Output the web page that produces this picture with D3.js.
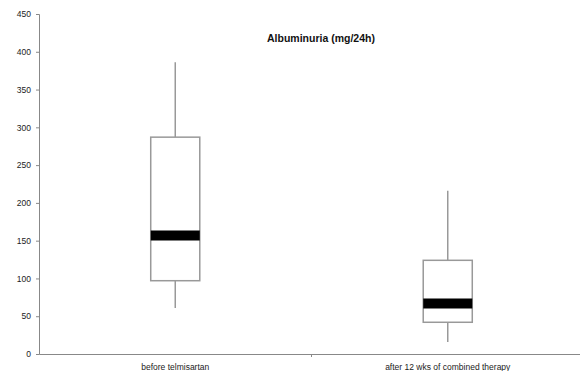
<!DOCTYPE html>
<html>
<head>
<meta charset="utf-8">
<script src="https://cdn.jsdelivr.net/npm/d3@7"></script>
<style>
  body { margin: 0; background: #fff; }
  svg { display: block; }
  svg text { font-family: "Liberation Sans", Arial, sans-serif; }
</style>
</head>
<body>
<div id="chart"></div>
<script>
// Box plot data
const categories = ['before telmisartan', 'after 12 wks of combined therapy'];
const whiskerLow = [61, 16];
const quartile1 = [97, 42];
const medians = [157, 67];
const quartile3 = [287, 124];
const whiskerHigh = [386, 216];
const yTicks = [0, 50, 100, 150, 200, 250, 300, 350, 400, 450];

const width = 580, height = 371;
const margin = { top: 14, right: -4, bottom: 17, left: 39 };

const svg = d3.select('#chart').append('svg')
    .attr('width', width)
    .attr('height', height);

const x = d3.scaleBand()
    .domain(categories)
    .range([margin.left, width - margin.right]);

const y = d3.scaleLinear()
    .domain([0, 450])
    .range([height - margin.bottom, margin.top]);

// Y axis
const yAxis = svg.append('g')
    .attr('transform', `translate(${margin.left},0)`)
    .call(d3.axisLeft(y).tickValues(yTicks).tickSize(3).tickPadding(5));
yAxis.select('.domain').attr('stroke', '#888');
yAxis.selectAll('.tick line').attr('stroke', '#888');
yAxis.selectAll('.tick text').attr('fill', '#222').style('font-size', '8.5px');

// X axis
const xAxis = svg.append('g')
    .attr('transform', `translate(0,${y(0)})`)
    .call(d3.axisBottom(x).tickSize(0).tickPadding(10));
xAxis.select('.domain').attr('stroke', '#888');
xAxis.selectAll('.tick text').attr('fill', '#222').style('font-size', '8.5px');
// small tick between categories
svg.append('line')
    .attr('x1', x(categories[1])).attr('x2', x(categories[1]))
    .attr('y1', y(0)).attr('y2', y(0) + 3)
    .attr('stroke', '#888');

const data = categories.map((c, i) => ({
    cat: c, lo: whiskerLow[i], q1: quartile1[i], med: medians[i], q3: quartile3[i], hi: whiskerHigh[i]
}));

const boxW = x.bandwidth() * 0.18;

const g = svg.selectAll('.box')
    .data(data)
    .enter()
    .append('g')
    .attr('class', 'box')
    .attr('transform', d => `translate(${x(d.cat) + x.bandwidth() / 2},0)`);

// whiskers
g.append('line')
    .attr('x1', 0).attr('x2', 0)
    .attr('y1', d => y(d.hi)).attr('y2', d => y(d.q3))
    .attr('stroke', '#999').attr('stroke-width', 1.5);
g.append('line')
    .attr('x1', 0).attr('x2', 0)
    .attr('y1', d => y(d.q1)).attr('y2', d => y(d.lo))
    .attr('stroke', '#999').attr('stroke-width', 1.5);

// boxes
g.append('rect')
    .attr('x', -boxW / 2)
    .attr('width', boxW)
    .attr('y', d => y(d.q3))
    .attr('height', d => y(d.q1) - y(d.q3))
    .attr('fill', '#fff')
    .attr('stroke', '#999')
    .attr('stroke-width', 1.5);

// medians
g.append('line')
    .attr('x1', -boxW / 2).attr('x2', boxW / 2)
    .attr('y1', d => y(d.med)).attr('y2', d => y(d.med))
    .attr('stroke', '#000').attr('stroke-width', 10);

// title
svg.append('text')
    .attr('x', 267)
    .attr('y', 42)
    .attr('font-size', '10.5px')
    .attr('font-weight', 'bold')
    .attr('fill', '#111')
    .text('Albuminuria (mg/24h)');
</script>
</body>
</html>
